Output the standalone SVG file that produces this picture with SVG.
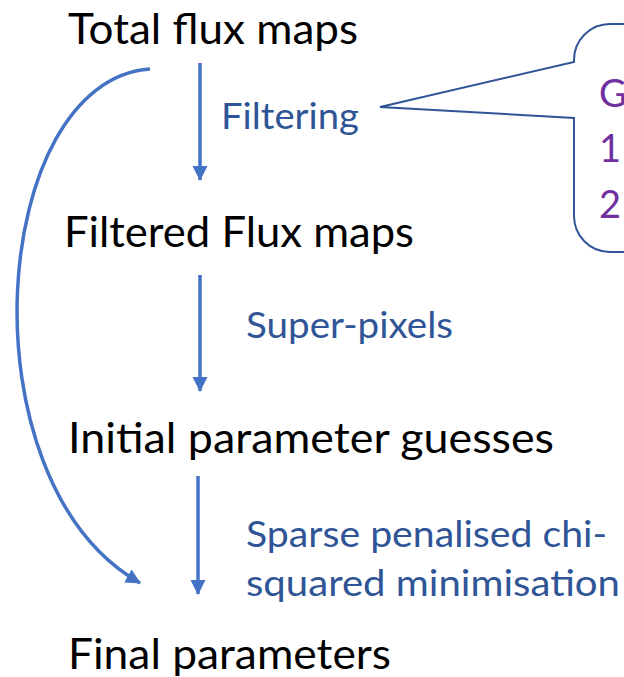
<svg xmlns="http://www.w3.org/2000/svg" width="624" height="677" viewBox="0 0 624 677">
<style>
.node{font-family:Lato,"Liberation Sans",sans-serif;font-size:42px;fill:#000}
.lbl{font-family:Lato,"Liberation Sans",sans-serif;font-size:37px;fill:#2F5597}
.call{font-family:Lato,"Liberation Sans",sans-serif;font-size:38px;fill:#7030A0}
.conn{fill:none;stroke:#4472C4;stroke-width:3.5}
</style>
<defs>
<marker id="ah" markerUnits="userSpaceOnUse" markerWidth="16" markerHeight="16" refX="14" refY="7.5" orient="auto" viewBox="0 0 16 15">
<path d="M0,0 L15,7.5 L0,15 z" fill="#4472C4"/>
</marker>
</defs>
<rect width="624" height="677" fill="#fff"/>
<g id="connectors">
<line class="conn" x1="200" y1="63" x2="200" y2="180" marker-end="url(#ah)"/>
<line class="conn" x1="200" y1="275" x2="200" y2="391" marker-end="url(#ah)"/>
<line class="conn" x1="198" y1="476" x2="198" y2="594" marker-end="url(#ah)"/>
<path class="conn" d="M150,69 C-10,80 -40,480 140,583" marker-end="url(#ah)"/>
</g>
<g id="callout">
<path d="M574,62 L574,60 A36,36 0 0 1 610,24 L640,24 L640,252 L610,252 A36,36 0 0 1 574,216 L574,118 L380,107 Z" fill="#fff" stroke="#2F5597" stroke-width="2"/>
<text class="call" x="599" y="107">G</text>
<text class="call" x="599" y="162">1</text>
<text class="call" x="599" y="218">2</text>
</g>
<g id="n1"><text class="node" x="68" y="44" textLength="290" lengthAdjust="spacingAndGlyphs">Total flux maps</text></g>
<g id="n2"><text class="node" x="64" y="247" textLength="350" lengthAdjust="spacingAndGlyphs">Filtered Flux maps</text></g>
<g id="n3"><text class="node" x="68" y="453" textLength="486" lengthAdjust="spacingAndGlyphs">Initial parameter guesses</text></g>
<g id="n4"><text class="node" x="68" y="669" textLength="323" lengthAdjust="spacingAndGlyphs">Final parameters</text></g>
<g id="labels">
<text class="lbl" x="221" y="129" textLength="138" lengthAdjust="spacingAndGlyphs">Filtering</text>
<text class="lbl" x="246" y="338" textLength="207" lengthAdjust="spacingAndGlyphs">Super-pixels</text>
<text class="lbl" x="246" y="547" textLength="361" lengthAdjust="spacingAndGlyphs">Sparse penalised chi-</text>
<text class="lbl" x="246" y="596" textLength="374" lengthAdjust="spacingAndGlyphs">squared minimisation</text>
</g>
</svg>
